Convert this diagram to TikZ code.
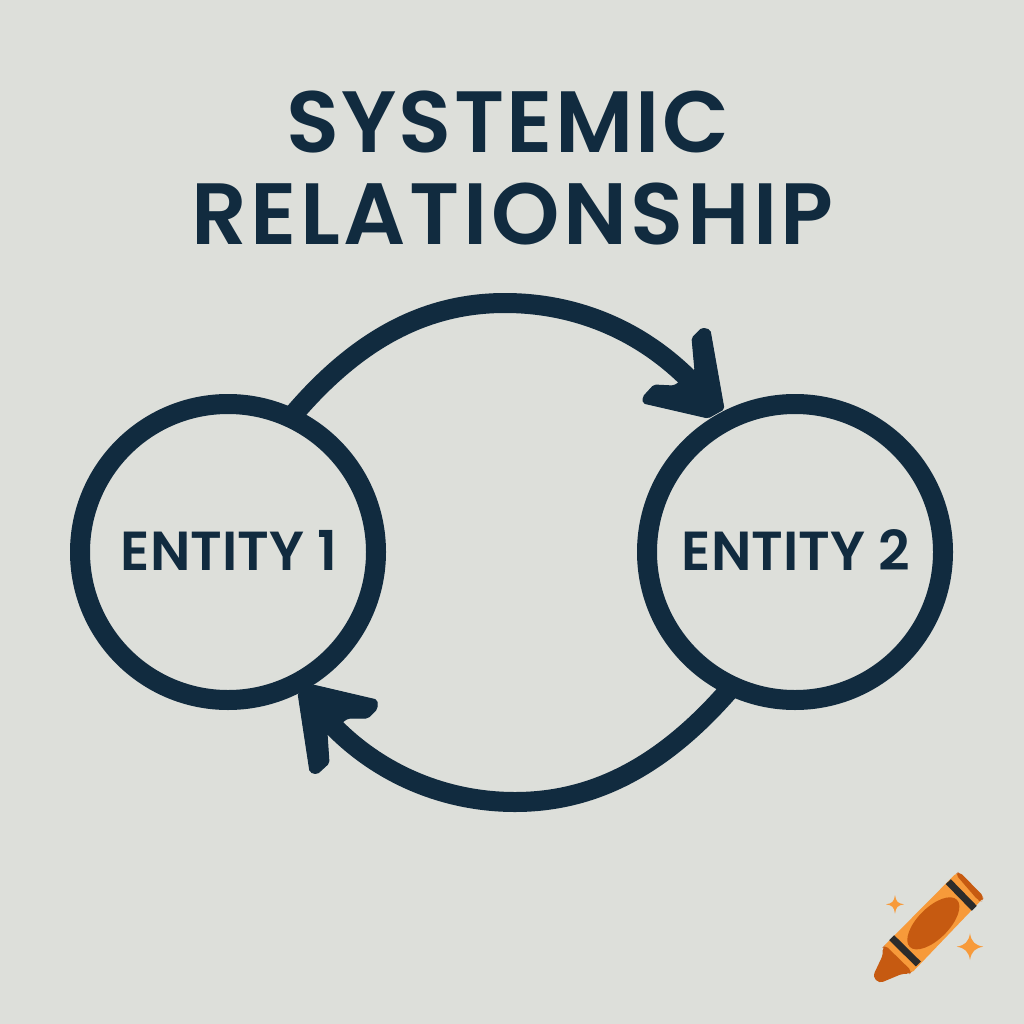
\documentclass[tikz,border=0pt]{standalone}
\usepackage{fontspec}
\setmainfont{Poppins SemiBold}
\definecolor{bgc}{HTML}{DDDFDA}
\definecolor{navy}{HTML}{112B3F}
\definecolor{lo}{HTML}{F79A3A}
\definecolor{dko}{HTML}{C65A11}
\definecolor{blk}{HTML}{2B2B2B}
\tikzset{
  entity/.style={circle,draw=navy,line width=20pt,minimum size=296pt,inner sep=0pt,outer sep=0pt},
  entitytext/.style={text=navy,font=\fontsize{55}{55}\selectfont,inner sep=0pt},
  titletext/.style={text=navy,font=\fontsize{87}{87}\selectfont,inner sep=0pt},
  flow/.style={draw=navy,line width=20pt},
  head/.style={fill=navy,draw=navy,line width=1pt,line join=round,rounded corners=2pt},
}
\begin{document}
\begin{tikzpicture}[x=1pt,y=-1pt]
\useasboundingbox (0,0) rectangle (1024,1024);
\fill[bgc] (0,0) rectangle (1024,1024);
\node[titletext] (t1) at (507.5,122) {\addfontfeature{LetterSpace=2.6}SYSTEMIC};
\node[titletext] (t2) at (512.5,214) {\addfontfeature{LetterSpace=4.1}RELATIONSHIP};
\node[entity] (e1) at (228,552) {};
\node[entity] (e2) at (795,552) {};
\node[entitytext] (l1) at (229,550) {ENTITY 1};
\node[entitytext] (l2) at (796,550) {ENTITY 2};
\draw[flow] (e1.65) .. controls (360,335) and (430,303) .. (505,303) coordinate (topmid)
  .. controls (575,303) and (650,330) .. (708,400) coordinate (toptip);
\draw[flow] (e2.245) .. controls (665,765) and (595,802) .. (515,802) coordinate (botmid)
  .. controls (440,802) and (370,770) .. (322,714) coordinate (bottip);
\fill[head] (702,328) -- (710,330) -- (724,409) -- (708,418) -- (643,403) -- (643,397) -- (654,385) -- (674,386) -- (695,371) -- (692,338) -- cycle;
\fill[head] (313,685) -- (377,700) -- (377,709) -- (368,718) -- (348,718) -- (327,733) -- (329,763) -- (317,774) -- (310,772) -- (298,693) -- cycle;
\begin{scope}[shift={(850,850)},x=0.3333pt,y=-0.3333pt]
  \fill[lo,rounded corners=4pt] (97,293) -- (322,66) -- (402,142) -- (182,372) -- cycle;
  \fill[dko,rounded corners=4pt] (97,293) -- (105,285) -- (186,364) -- (178,373) -- (160,370) -- (88,400) -- (68,380) -- (100,312) -- cycle;
  \fill[dko,rounded corners=4pt] (316,72) -- (328,65) -- (402,140) -- (396,154) -- (385,152) -- cycle;
  \draw[blk,line width=7pt] (295,95) -- (373,175);
  \draw[blk,line width=7pt] (125,263) -- (205,342);
  \fill[dko,rotate around={45:(250,220)}] (250,220) ellipse [x radius=100,y radius=47];
  \fill[lo] (135,135) .. controls (138,155) and (143,160) .. (162,163) .. controls (143,166) and (138,171) .. (135,191) .. controls (132,171) and (127,166) .. (108,163) .. controls (127,160) and (132,155) .. (135,135) -- cycle;
  \fill[lo] (360,250) .. controls (364,275) and (375,286) .. (400,290) .. controls (375,294) and (364,305) .. (360,330) .. controls (356,305) and (345,294) .. (320,290) .. controls (345,286) and (356,275) .. (360,250) -- cycle;
\end{scope}
\end{tikzpicture}
\end{document}
